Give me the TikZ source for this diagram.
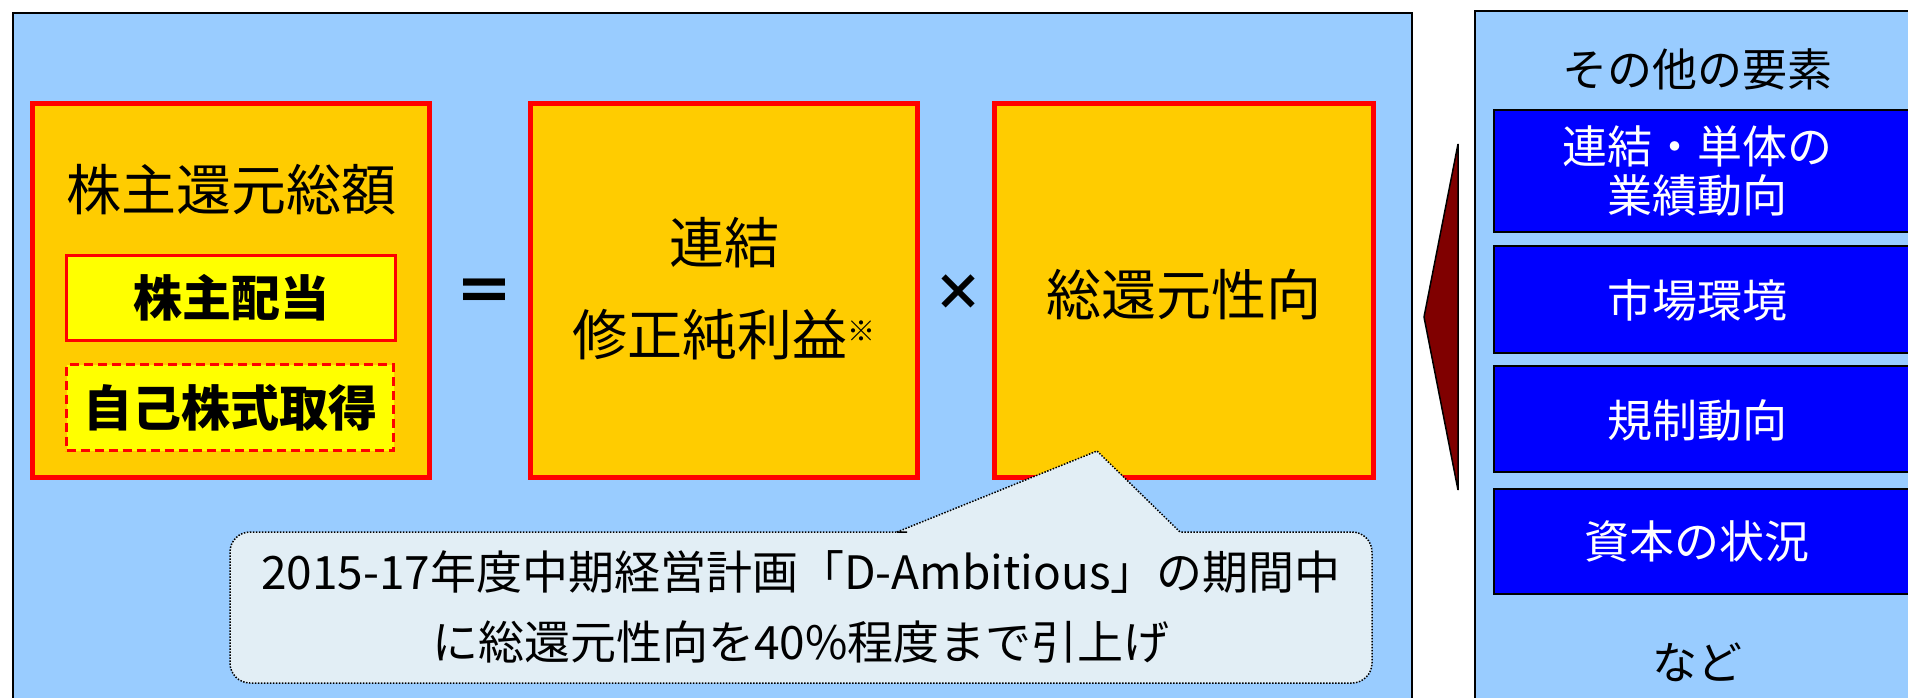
\documentclass[tikz,border=0pt]{standalone}
\usepackage{fontspec}
\setmainfont{Noto Sans CJK JP}
\definecolor{panelblue}{HTML}{99CCFF}
\definecolor{boxorange}{HTML}{FFCC00}
\definecolor{boxred}{HTML}{FF0000}
\definecolor{boxyellow}{HTML}{FFFF00}
\definecolor{calloutfill}{HTML}{E2EEF5}
\definecolor{factorblue}{HTML}{0000FF}
\definecolor{arrowred}{HTML}{800000}
\tikzset{
  panel/.style={draw=black, line width=2pt, fill=panelblue, inner sep=0pt},
  bigbox/.style={draw=boxred, line width=5pt, fill=boxorange, inner sep=0pt, minimum height=374pt},
  subbox/.style={draw=boxred, line width=3pt, fill=boxyellow, inner sep=0pt},
  factor/.style={draw=black, line width=2pt, fill=factorblue, inner sep=0pt, minimum width=460pt},
  bigtext/.style={inner sep=0pt, font=\fontsize{55}{92}\selectfont, align=center},
  boldtext/.style={inner sep=0pt, font=\fontsize{49}{55}\selectfont\bfseries},
  sidetext/.style={inner sep=0pt, font=\fontsize{45}{49}\selectfont, align=center},
  whitetext/.style={sidetext, text=white},
  callout/.style={draw=black, line width=1.5pt, dash pattern=on 1.5pt off 1.5pt, fill=calloutfill},
}
\begin{document}
\begin{tikzpicture}[x=1pt,y=-1pt]
\useasboundingbox (0,0) rectangle (1908,698);
\fill[white] (0,0) rectangle (1908,698);
\begin{scope}
\clip (0,0) rectangle (1908,698);
% panels
\node[panel, anchor=north west, minimum width=1399pt, minimum height=720pt] (leftpanel) at (12,12) {};
\node[panel, anchor=north west, minimum width=500pt, minimum height=720pt] (rightpanel) at (1474,10) {};
% big boxes
\node[bigbox, minimum width=397pt] (total) at (231,290.5) {};
\node[bigbox, minimum width=387pt] (profit) at (724,290.5) {};
\node[bigbox, minimum width=379pt] (ratio) at (1184,290.5) {};
\node[bigtext] (totaltitle) at (231,190) {株主還元総額};
\node[subbox, minimum width=329pt, minimum height=85pt] (dividend) at (231,298) {};
\node[boldtext] (dividendtext) at (dividend.center) {株主配当};
\node[subbox, dash pattern=on 9pt off 5pt, minimum width=327pt, minimum height=86pt] (buyback) at (230,407.5) {};
\node[boldtext] (buybacktext) at (buyback.center) {自己株式取得};
\node[inner sep=0pt, font=\fontsize{60}{60}\selectfont\bfseries] (equals) at (484,296) {＝};
\node[bigtext] (profittext) at (724,289) {連結\\修正純利益{\fontsize{28}{28}\selectfont\raisebox{14pt}{※}}};
\node[inner sep=0pt, font=\fontsize{50}{50}\selectfont\bfseries] (times) at (958,293) {×};
\node[bigtext] (ratiotext) at (1184,295) {総還元性向};
% callout
\draw[callout] (897,532) -- (1097,451) -- (1180,532) -- (1190,532) [rounded corners=20pt] -- (1372,532) -- (1372,683) -- (230,683) -- (230,532) -- (887,532) [sharp corners] -- cycle;
\node[inner sep=0pt, font=\fontsize{46}{70}\selectfont, align=center] (callouttext) at (801,607) {2015-17年度中期経営計画「D-Ambitious」の期間中\\に総還元性向を40\%程度まで引上げ};
% arrow
\draw[draw=black, line width=1.5pt, fill=arrowred, line join=miter] (1424,317) -- (1458,144) -- (1458,490) -- cycle;
% right side
\node[sidetext] (othertitle) at (1697,69) {その他の要素};
\node[factor, anchor=west, minimum height=122pt] (f1) at (1493,171) {};
\node[factor, anchor=west, minimum height=107pt] (f2) at (1493,299.5) {};
\node[factor, anchor=west, minimum height=106pt] (f3) at (1493,419) {};
\node[factor, anchor=west, minimum height=105pt] (f4) at (1493,541.5) {};
\node[whitetext] (f1text) at (1697,171) {連結・単体の\\業績動向};
\node[whitetext] (f2text) at (1697,300) {市場環境};
\node[whitetext] (f3text) at (1697,420) {規制動向};
\node[whitetext] (f4text) at (1697,541) {資本の状況};
\node[sidetext] (etc) at (1697,662) {など};
\end{scope}
\end{tikzpicture}
\end{document}
